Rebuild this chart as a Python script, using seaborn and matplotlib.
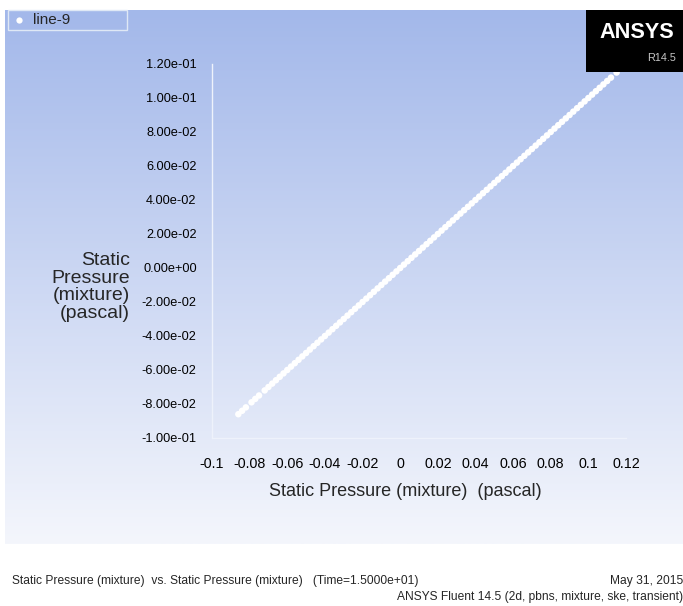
import numpy as np
import pandas as pd
import matplotlib
matplotlib.use("Agg")
import matplotlib.pyplot as plt
from matplotlib import font_manager
from matplotlib.ticker import FixedLocator, FixedFormatter, MultipleLocator
from matplotlib.patches import Rectangle
from matplotlib.lines import Line2D
import seaborn as sns

# ---- data (static pressure plotted against itself) ----
static_pressure = [
    -0.086, -0.084, -0.082, -0.079, -0.077, -0.075, -0.072, -0.070, -0.068, -0.066,
    -0.064, -0.062, -0.060, -0.058, -0.056, -0.054, -0.052, -0.050, -0.048, -0.046,
    -0.044, -0.042, -0.040, -0.038, -0.036, -0.034, -0.032, -0.030, -0.028, -0.026,
    -0.024, -0.022, -0.020, -0.018, -0.016, -0.014, -0.012, -0.010, -0.008, -0.006,
    -0.004, -0.002, 0.000, 0.002, 0.004, 0.006, 0.008, 0.010, 0.012, 0.014,
    0.016, 0.018, 0.020, 0.022, 0.024, 0.026, 0.028, 0.030, 0.032, 0.034,
    0.036, 0.038, 0.040, 0.042, 0.044, 0.046, 0.048, 0.050, 0.052, 0.054,
    0.056, 0.058, 0.060, 0.062, 0.064, 0.066, 0.068, 0.070, 0.072, 0.074,
    0.076, 0.078, 0.080, 0.082, 0.084, 0.086, 0.088, 0.090, 0.092, 0.094,
    0.096, 0.098, 0.100, 0.102, 0.104, 0.106, 0.108, 0.110, 0.112, 0.115,
]
series_name = "line-9"
x_ticks = [-0.1, -0.08, -0.06, -0.04, -0.02, 0, 0.02, 0.04, 0.06, 0.08, 0.1, 0.12]
x_tick_labels = ["-0.1", "-0.08", "-0.06", "-0.04", "-0.02", "0", "0.02", "0.04",
                 "0.06", "0.08", "0.1", "0.12"]
y_ticks = [-0.10, -0.08, -0.06, -0.04, -0.02, 0.0, 0.02, 0.04, 0.06, 0.08, 0.10, 0.12]
y_tick_labels = ["-1.00e-01", "-8.00e-02", "-6.00e-02", "-4.00e-02", "-2.00e-02",
                 "0.00e+00", "2.00e-02", "4.00e-02", "6.00e-02", "8.00e-02",
                 "1.00e-01", "1.20e-01"]

df = pd.DataFrame({"x": static_pressure, "y": static_pressure, "series": series_name})

sns.set_style("white")
plt.rcParams["font.family"] = ["Liberation Sans", "DejaVu Sans"]

# pick a condensed face if one is installed, otherwise shrink regular text
_names = {f.name for f in font_manager.fontManager.ttflist}
if "Liberation Sans Narrow" in _names:
    narrow, nscale = ["Liberation Sans Narrow", "Liberation Sans"], 1.0
elif "DejaVu Sans Condensed" in _names:
    narrow, nscale = ["DejaVu Sans Condensed", "Liberation Sans"], 0.92
else:
    narrow, nscale = ["Liberation Sans", "DejaVu Sans"], 0.82

W, H = 683, 606
fig = plt.figure(figsize=(W / 100, H / 100), dpi=100)
fig.patch.set_facecolor("white")

# gradient background
bg = fig.add_axes([5 / W, 1 - 544 / H, 1 - 5 / W, (544 - 10) / H])
top = np.array([163, 184, 234]) / 255
bot = np.array([244, 246, 252]) / 255
t = np.linspace(0, 1, 256)[:, None]
grad = top[None, :] * (1 - t) + bot[None, :] * t
bg.imshow(grad[:, None, :], aspect="auto", extent=[0, 1, 0, 1])
bg.set_axis_off()

ax = fig.add_axes([212 / W, 1 - 438 / H, (626 - 212) / W, (438 - 64) / H])
ax.patch.set_alpha(0)
sns.scatterplot(data=df, x="x", y="y", ax=ax, color="white", s=22,
                edgecolor="none", linewidth=0, legend=False, zorder=3)

ax.set_xlim(-0.1, 0.12)
ax.set_ylim(-0.1, 0.12)
ax.xaxis.set_major_locator(FixedLocator(x_ticks))
ax.xaxis.set_major_formatter(FixedFormatter(x_tick_labels))
ax.yaxis.set_major_locator(FixedLocator(y_ticks))
ax.yaxis.set_major_formatter(FixedFormatter(y_tick_labels))
ax.xaxis.set_minor_locator(MultipleLocator(0.01))
ax.yaxis.set_minor_locator(MultipleLocator(0.01))
for s in ["top", "right"]:
    ax.spines[s].set_visible(False)
spc = "#eef2fb"
for s in ["left", "bottom"]:
    ax.spines[s].set_visible(True)
    ax.spines[s].set_color(spc)
    ax.spines[s].set_linewidth(1.0)
ax.tick_params(which="major", direction="out", length=5, width=0.8, color=spc,
               labelcolor="black", pad=6)
ax.tick_params(which="minor", direction="out", length=3, width=0.8, color=spc)
ax.tick_params(axis="y", which="major", labelsize=9.2)
ax.tick_params(axis="x", which="major", pad=9, labelsize=10.3)
ax.set_xlabel("")
ax.set_ylabel("")

# axis titles
fig.text(405 / W, 1 - 492 / H, "Static Pressure (mixture)  (pascal)",
         ha="center", va="center", fontsize=13)
fig.text(130 / W, 1 - 287 / H, "Static\nPressure\n(mixture)\n(pascal)",
         ha="right", va="center", fontsize=14, linespacing=1.03, multialignment="right")

# legend box
fig.patches.append(Rectangle((8 / W, 1 - 30 / H), 119 / W, 20 / H, transform=fig.transFigure,
                             facecolor="none", edgecolor="#dfe8f5", linewidth=1))
fig.add_artist(Line2D([19 / W], [1 - 20 / H], transform=fig.transFigure, marker="o",
                      markersize=4.5, color="white", markeredgewidth=0, linestyle="none"))
fig.text(33 / W, 1 - 20 / H, series_name, ha="left", va="center", fontsize=11)

# ANSYS logo
fig.patches.append(Rectangle((586 / W, 1 - 72 / H), (W - 586) / W, 62 / H,
                             transform=fig.transFigure, facecolor="black",
                             edgecolor="none", zorder=10))
fig.text(637 / W, 1 - 33 / H, "ANSYS", color="white", ha="center", va="center",
         fontsize=19 * nscale, fontweight="bold", zorder=11, family=narrow)
fig.text(676 / W, 1 - 58 / H, "R14.5", color="#c8c8c8", ha="right", va="center",
         fontsize=9.5 * nscale, zorder=11, family=narrow)

# footer
fs = 10.5 * nscale
fig.text(12 / W, 1 - 581 / H,
         "Static Pressure (mixture)  vs. Static Pressure (mixture)   (Time=1.5000e+01)",
         ha="left", va="center", fontsize=fs, family=narrow)
fig.text(683 / W, 1 - 581 / H, "May 31, 2015", ha="right", va="center",
         fontsize=fs, family=narrow)
fig.text(683 / W, 1 - 597 / H, "ANSYS Fluent 14.5 (2d, pbns, mixture, ske, transient)",
         ha="right", va="center", fontsize=fs, family=narrow)

fig.savefig("out.png", dpi=100)
